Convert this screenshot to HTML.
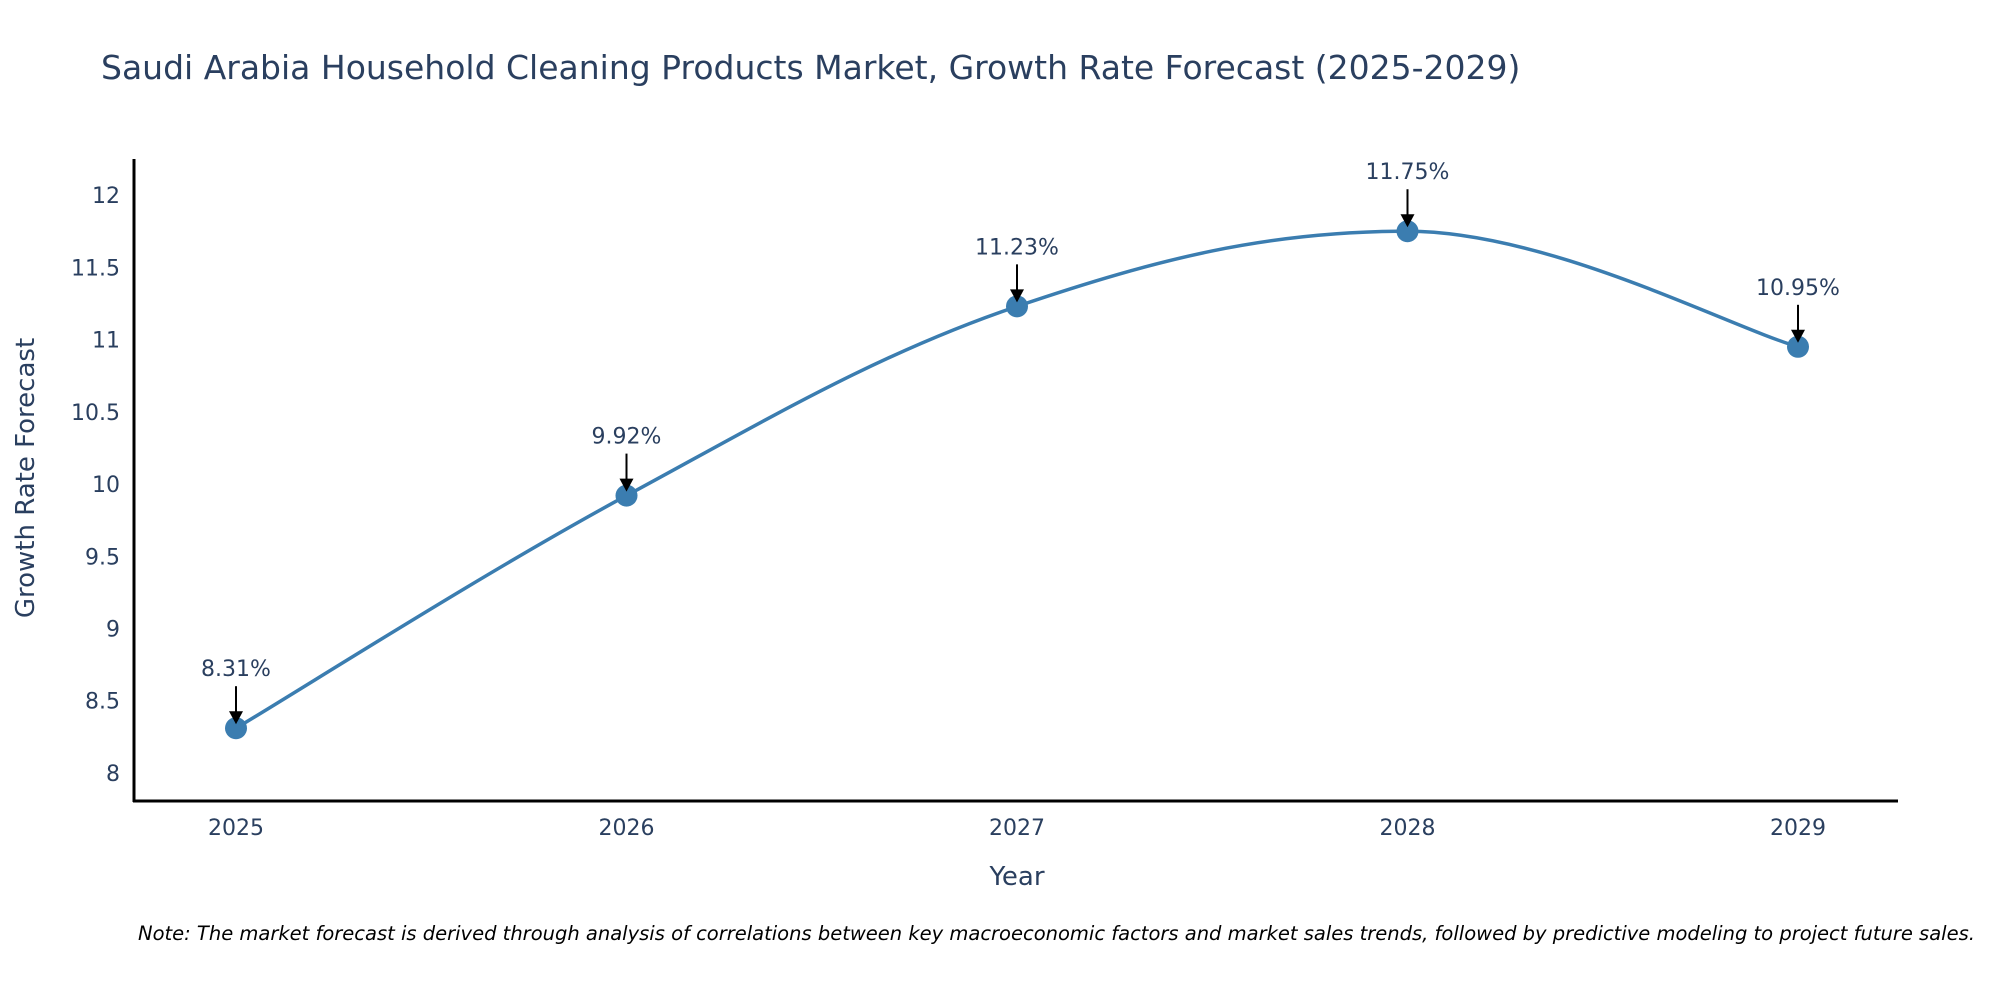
<!DOCTYPE html>
<html><head><meta charset="utf-8"><style>
html,body{margin:0;padding:0;background:#fff;}
svg{display:block;font-family:"DejaVu Sans","Liberation Sans",sans-serif;}
</style></head><body>
<svg id="chart" width="2000" height="1000" xmlns="http://www.w3.org/2000/svg">
<text x="101" y="79" font-size="33" fill="#2a3f5f">Saudi Arabia Household Cleaning Products Market, Growth Rate Forecast (2025-2029)</text>
<g id="yticks"></g>
<g id="xticks"></g>
<path id="line" fill="none" stroke="#3b7db0" stroke-width="3.5"/>
<g id="points"></g>
<g id="annots"></g>
<line x1="134" y1="159" x2="134" y2="802" stroke="#000" stroke-width="3"/>
<line x1="133" y1="801" x2="1898" y2="801" stroke="#000" stroke-width="3"/>
<text x="1017" y="885" font-size="26" fill="#2a3f5f" text-anchor="middle">Year</text>
<text transform="translate(34,478) rotate(-90)" font-size="26" fill="#2a3f5f" text-anchor="middle">Growth Rate Forecast</text>
<text x="138" y="940" font-size="19.5" font-style="italic" fill="#000">Note: The market forecast is derived through analysis of correlations between key macroeconomic factors and market sales trends, followed by predictive modeling to project future sales.</text>
</svg>
<script>
const years = ["2025","2026","2027","2028","2029"];
const values = [8.31, 9.92, 11.23, 11.75, 10.95];
const yTicks = [8, 8.5, 9, 9.5, 10, 10.5, 11, 11.5, 12];
const yTickLabels = ["8","8.5","9","9.5","10","10.5","11","11.5","12"];
const NS = "http://www.w3.org/2000/svg";
const x0 = 236, xStep = 390.5;
function xPos(i){ return x0 + i*xStep; }
const yMin = 7.806, yMax = 12.25, yTop = 159, yBot = 801;
function yPos(v){ return yBot - (v - yMin)/(yMax - yMin)*(yBot - yTop); }
function mk(tag, attrs, parent){ const e=document.createElementNS(NS,tag); for(const k in attrs) e.setAttribute(k,attrs[k]); parent.appendChild(e); return e; }
const yt = document.getElementById('yticks');
yTicks.forEach((v,i)=>{
  const t = mk('text',{x:120,y:yPos(v)+8,'font-size':22,fill:'#2a3f5f','text-anchor':'end'},yt);
  
  
  t.textContent = yTickLabels[i];
});
const xt = document.getElementById('xticks');
years.forEach((y,i)=>{
  const t = mk('text',{x:xPos(i),y:835,'font-size':22,fill:'#2a3f5f','text-anchor':'middle'},xt);
  
  
  t.textContent = y;
});
const P = values.map((v,i)=>[xPos(i), yPos(v)]);
let d = `M${P[0][0]},${P[0][1]}`;
const s = 0.18;
for(let i=0;i<P.length-1;i++){
  const p0=P[Math.max(i-1,0)], p1=P[i], p2=P[i+1], p3=P[Math.min(i+2,P.length-1)];
  let t1 = (p2[1]-p0[1])*s, t2 = (p3[1]-p1[1])*s;
  if((p1[1]-p0[1])*(p2[1]-p1[1])<0) t1=0;
  if((p2[1]-p1[1])*(p3[1]-p2[1])<0) t2=0;
  const c1=[p1[0]+(p2[0]-p0[0])*s, p1[1]+t1];
  const c2=[p2[0]-(p3[0]-p1[0])*s, p2[1]-t2];
  d += ` C${c1[0]},${c1[1]} ${c2[0]},${c2[1]} ${p2[0]},${p2[1]}`;
}
document.getElementById('line').setAttribute('d', d);
const pts = document.getElementById('points');
const an = document.getElementById('annots');
values.forEach((v,i)=>{
  const c = mk('circle',{cx:xPos(i),cy:yPos(v),r:11,fill:'#3b7db0'},pts);
  
  
  const x=xPos(i), y=yPos(v);
  const l = mk('line',{x1:x,y1:y-42,x2:x,y2:y-16,stroke:'#000','stroke-width':2},an);
  
  
  const h = mk('polygon',{points:`${x-7},${y-17} ${x+7},${y-17} ${x},${y-4}`,fill:'#000'},an);
  
  
  const t = mk('text',{x:x,y:y-52,'font-size':22,fill:'#2a3f5f','text-anchor':'middle'},an);
  
  
  t.textContent = v.toFixed(2)+'%';
});
</script>
</body></html>
